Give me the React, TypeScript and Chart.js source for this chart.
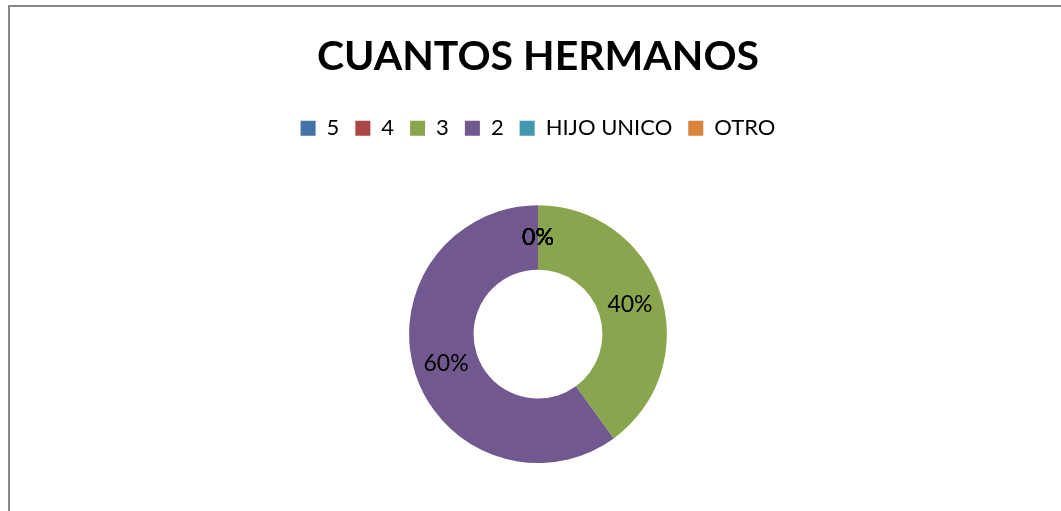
import React, { useEffect, useRef } from "react";
import { Chart, registerables } from "chart.js";

Chart.register(...registerables);

const titleText = "CUANTOS HERMANOS";
const categories = ["5", "4", "3", "2", "HIJO UNICO", "OTRO"];
const percentValues = [0, 0, 40, 60, 0, 0];
const sliceColors = ["#4572A7", "#AA4643", "#89A54E", "#71588F", "#4198AF", "#DB843D"];

const FONT = "Lato, 'Open Sans', sans-serif";

const labelPlugin = {
  id: "sliceLabels",
  afterDatasetsDraw(chart: any) {
    const { ctx } = chart;
    const meta = chart.getDatasetMeta(0);
    const data = chart.data.datasets[0].data as number[];
    ctx.save();
    ctx.font = `23px ${FONT}`;
    ctx.fillStyle = "#000";
    ctx.textAlign = "center";
    ctx.textBaseline = "middle";
    meta.data.forEach((arc: any, i: number) => {
      const p = arc.tooltipPosition();
      ctx.fillText(`${data[i]}%`, p.x, p.y);
    });
    ctx.restore();
  },
};

const legendSpacer = {
  id: "legendSpacer",
  beforeInit(chart: any) {
    const legend = chart.legend;
    const origFit = legend.fit;
    legend.fit = function () {
      origFit.call(this);
      this.height += 56;
    };
  },
};

export default function App() {
  const ref = useRef<HTMLCanvasElement>(null);
  useEffect(() => {
    document.body.style.overflow = "hidden";
    const chart = new Chart(ref.current!, {
      type: "doughnut",
      data: {
        labels: categories,
        datasets: [
          {
            data: percentValues,
            backgroundColor: sliceColors,
            borderWidth: 0,
          },
        ],
      },
      options: {
        animation: false,
        responsive: false,
        cutout: "50%",
        layout: { padding: { left: 5, bottom: 48 } },
        plugins: {
          title: {
            display: true,
            text: titleText,
            color: "#000",
            font: { family: FONT, size: 41, weight: "bold" },
            padding: { top: 25, bottom: 20 },
          },
          legend: {
            position: "top",
            labels: {
              color: "#000",
              font: { family: FONT, size: 22 },
              boxWidth: 15,
              boxHeight: 15,
              padding: 16,
            },
          },
          tooltip: { enabled: false },
        },
      },
      plugins: [legendSpacer, labelPlugin],
    });
    return () => chart.destroy();
  }, []);
  return (
    <div
      style={{
        position: "absolute",
        left: 8,
        top: 5,
        width: 1100,
        height: 520,
        borderLeft: "2px solid #878787",
        borderTop: "2px solid #878787",
        background: "#fff",
      }}
    >
      <canvas ref={ref} width={1051} height={504} style={{ display: "block" }} />
    </div>
  );
}
